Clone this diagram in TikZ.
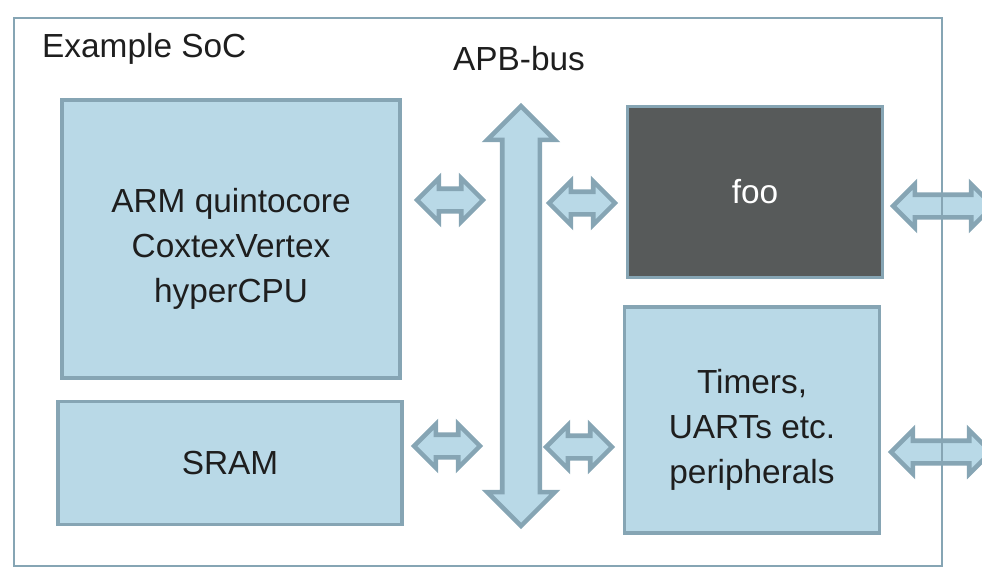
\documentclass[tikz,border=0pt]{standalone}
\usepackage{fontspec}
\setmainfont{Liberation Sans}
\usepackage{xcolor}
\usetikzlibrary{shapes.arrows,positioning}
\definecolor{azulClaro}{HTML}{B9D9E7}
\definecolor{azulBorda}{HTML}{86A5B4}
\definecolor{cinzaEscuro}{HTML}{575A5A}
\definecolor{textoEscuro}{HTML}{1E1E1E}
\newcommand{\folga}{\rule{0pt}{25pt}}
\tikzset{
    bloco/.style={
        rectangle,
        draw=azulBorda,
        line width=2.2pt,
        fill=azulClaro,
        align=center,
        text=textoEscuro,
        inner sep=0pt
    },
    blocoEscuro/.style={bloco, fill=cinzaEscuro, text=white},
    ligacao/.style={
        double arrow,
        draw=azulBorda,
        line width=2.6pt,
        fill=azulClaro,
        inner xsep=0pt,
        inner ysep=0.18cm,
        double arrow head extend=0.21cm,
        minimum height=1.32cm
    },
    barramento/.style={
        ligacao,
        rotate=90,
        inner ysep=0.33cm,
        double arrow head extend=0.3cm,
        minimum height=8.4cm
    },
    regiaoSoC/.style={draw=azulBorda, line width=1.6pt}
}

\begin{document}
\begin{tikzpicture}[x=0.02cm, y=-0.02cm, font=\fontsize{19}{25.6}\selectfont]
        \clip (0,0) rectangle (982,575);
        % blocos
        \node[bloco, minimum width=6.76cm, minimum height=5.56cm] (cpu) at (231,239)
            {\folga ARM quintocore\\CoxtexVertex\\hyperCPU};
        \node[bloco, minimum width=6.88cm, minimum height=2.46cm] (sram) at (230,463)
            {SRAM};
        \node[blocoEscuro, minimum width=5.1cm, minimum height=3.42cm] (foo) at (755,192)
            {foo};
        \node[bloco, minimum width=5.1cm, minimum height=4.52cm] (perif) at (752,420)
            {\folga Timers,\\UARTs etc.\\peripherals};
        % barramento e ligacoes
        \node[barramento] (apb) at (521,316) {};
        \node[ligacao] (cpuApb) at (450,200) {};
        \node[ligacao] (apbFoo) at (582,203) {};
        \node[ligacao] (sramApb) at (447,446) {};
        \node[ligacao] (apbPerif) at (579,447) {};
        \node[ligacao, minimum height=2cm] (fooFora) at (943,206) {};
        \node[ligacao, minimum height=2cm] (perifFora) at (941,452) {};
        % regiao do SoC
        \draw[regiaoSoC] (14,18) rectangle (942,566);
        \node[anchor=west, text=textoEscuro] (titulo) at (36,49) {Example SoC};
        \node[text=textoEscuro] (apbRotulo) at (519,59) {APB-bus};
    \end{tikzpicture}
\end{document}
